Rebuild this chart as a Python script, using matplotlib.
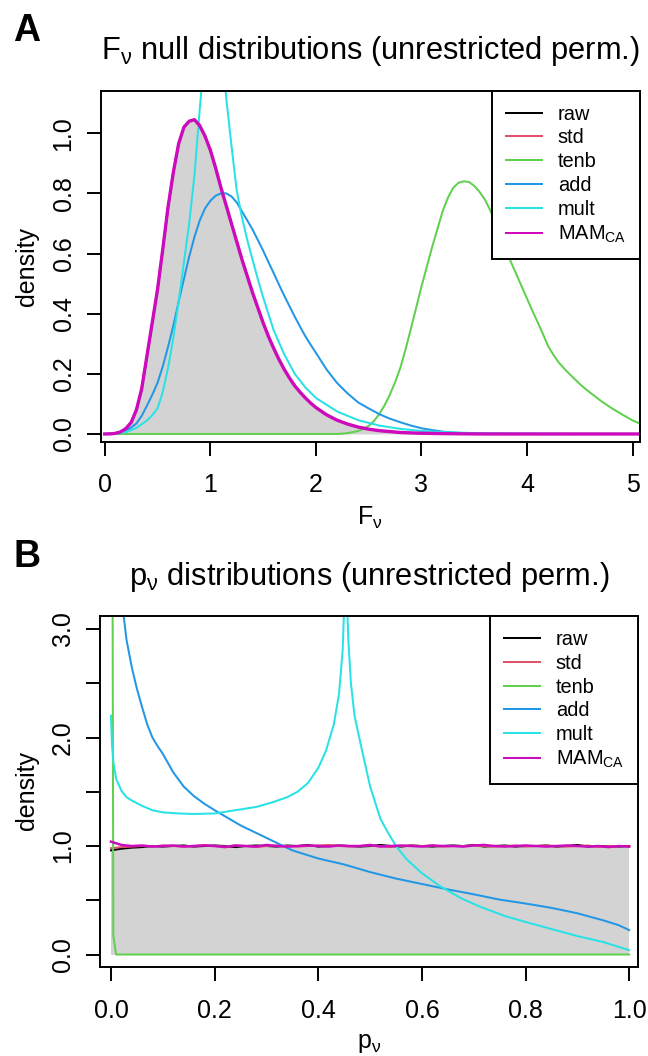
import numpy as np
import matplotlib
matplotlib.use("Agg")
import matplotlib.pyplot as plt
from matplotlib.lines import Line2D

plt.rcParams['font.family'] = ['Liberation Sans', 'DejaVu Sans']
plt.rcParams['mathtext.fontset'] = 'custom'
plt.rcParams['mathtext.rm'] = 'Liberation Sans'

# R 4.x default palette
series_names = ["raw", "std", "tenb", "add", "mult", "MAM$_{\\mathrm{CA}}$"]
series_cols = ["#000000", "#DF536B", "#61D04F", "#2297E6", "#28E2E5", "#CD0BBC"]

# ---------------- panel A: F null densities ----------------
null_A_x = [0, 0.05, 0.1, 0.15, 0.2, 0.25, 0.3, 0.35, 0.4, 0.45,
            0.5, 0.55, 0.6, 0.65, 0.7, 0.75, 0.8, 0.85, 0.9, 0.95,
            1.0, 1.05, 1.1, 1.15, 1.2, 1.25, 1.3, 1.35, 1.4, 1.45,
            1.5, 1.55, 1.6, 1.65, 1.7, 1.75, 1.8, 1.85, 1.9, 1.95,
            2.0, 2.1, 2.2, 2.3, 2.4, 2.5, 2.6, 2.7, 2.8, 2.9,
            3.0, 3.2, 3.4, 3.6, 5.1]
null_A = [0, 0.0003, 0.002, 0.007, 0.018, 0.038, 0.08, 0.15, 0.26, 0.37,
          0.48, 0.615, 0.755, 0.87, 0.965, 1.02, 1.04, 1.045, 1.025, 0.99,
          0.944, 0.885, 0.82, 0.76, 0.70, 0.64, 0.58, 0.525, 0.47, 0.42,
          0.37, 0.325, 0.285, 0.248, 0.215, 0.186, 0.16, 0.139, 0.12, 0.103,
          0.088, 0.064, 0.046, 0.033, 0.023, 0.016, 0.011, 0.008, 0.005, 0.0035,
          0.0025, 0.0012, 0.0005, 0, 0]

tenb_A_x = [0, 2.2, 2.25, 2.3, 2.35, 2.4, 2.45, 2.5, 2.55, 2.6,
            2.65, 2.7, 2.75, 2.8, 2.85, 2.9, 2.95, 3.0, 3.05, 3.1,
            3.15, 3.2, 3.25, 3.3, 3.35, 3.4, 3.45, 3.5, 3.55, 3.6,
            3.65, 3.7, 3.75, 3.8, 3.85, 3.9, 3.95, 4.0, 4.05, 4.1,
            4.15, 4.2, 4.25, 4.3, 4.35, 4.4, 4.45, 4.5, 4.55, 4.6,
            4.7, 4.8, 4.9, 5.0, 5.1]
tenb_A = [0, 0, 0.001, 0.003, 0.006, 0.01, 0.017, 0.027, 0.043, 0.066,
          0.095, 0.13, 0.172, 0.22, 0.282, 0.35, 0.42, 0.49, 0.555, 0.62,
          0.68, 0.74, 0.785, 0.818, 0.835, 0.84, 0.838, 0.825, 0.805, 0.78,
          0.745, 0.70, 0.655, 0.61, 0.57, 0.53, 0.49, 0.45, 0.41, 0.372,
          0.333, 0.292, 0.263, 0.238, 0.218, 0.2, 0.183, 0.166, 0.151, 0.137,
          0.11, 0.086, 0.065, 0.045, 0.03]

add_A_x = [0, 0.05, 0.1, 0.15, 0.2, 0.25, 0.3, 0.35, 0.4, 0.45,
           0.5, 0.55, 0.6, 0.65, 0.7, 0.75, 0.8, 0.85, 0.9, 0.95,
           1.0, 1.05, 1.1, 1.15, 1.2, 1.25, 1.3, 1.35, 1.4, 1.45,
           1.5, 1.55, 1.6, 1.65, 1.7, 1.75, 1.8, 1.85, 1.9, 1.95,
           2.0, 2.1, 2.2, 2.3, 2.4, 2.5, 2.6, 2.7, 2.8, 2.9,
           3.0, 3.1, 3.2, 3.3, 3.4, 3.6, 3.9, 4.2, 5.1]
add_A = [0, 0.001, 0.003, 0.006, 0.012, 0.021, 0.035, 0.06, 0.094, 0.13,
         0.17, 0.225, 0.29, 0.36, 0.44, 0.515, 0.59, 0.655, 0.71, 0.75,
         0.775, 0.792, 0.80, 0.80, 0.79, 0.77, 0.74, 0.71, 0.68, 0.645,
         0.61, 0.572, 0.535, 0.497, 0.46, 0.425, 0.39, 0.357, 0.325, 0.297,
         0.27, 0.215, 0.17, 0.135, 0.105, 0.085, 0.066, 0.051, 0.039, 0.028,
         0.019, 0.013, 0.008, 0.005, 0.003, 0.0015, 0.0005, 0, 0]

mult_A_x = [0, 0.1, 0.2, 0.3, 0.4, 0.45, 0.5, 0.55, 0.6, 0.65,
            0.7, 0.75, 0.8, 0.85, 0.9, 0.95, 1.0, 1.05, 1.1, 1.15,
            1.2, 1.25, 1.3, 1.35, 1.4, 1.45, 1.5, 1.6, 1.7, 1.8,
            1.9, 2.0, 2.2, 2.4, 2.6, 2.8, 3.0, 3.3, 3.6, 4.0,
            5.1]
mult_A = [0, 0.001, 0.006, 0.02, 0.045, 0.062, 0.085, 0.14, 0.22, 0.32,
          0.44, 0.57, 0.70, 0.86, 1.08, 1.28, 1.40, 1.42, 1.35, 1.12,
          0.96, 0.81, 0.72, 0.645, 0.58, 0.515, 0.455, 0.345, 0.265, 0.20,
          0.155, 0.12, 0.075, 0.046, 0.028, 0.017, 0.01, 0.005, 0.002, 0.001,
          0]

# ---------------- panel B: p-value densities ----------------
unif_x = [0.0, 1.0]
unif_y = [0.995, 0.995]

raw_B = [0.96, 0.975, 0.985, 0.99, 1.0, 0.995, 1.0, 1.005, 0.995, 1.0,
         1.005, 1.0, 0.99, 1.0, 1.005, 1.0, 0.995, 1.005, 1.0, 1.01,
         0.995, 1.0, 1.005, 1.0, 0.995, 1.0, 1.01, 1.0, 0.995, 1.005,
         1.0, 0.995, 1.0, 1.005, 1.0, 1.01, 0.995, 1.0, 1.005, 0.995,
         1.0, 1.0, 1.005, 0.995, 1.0, 1.01, 0.995, 1.0, 1.0, 0.995, 1.0]
std_B = [0.98, 0.99, 0.995, 1.0, 0.995, 1.005, 1.0, 0.995, 1.0, 1.01,
         1.0, 0.995, 1.005, 1.0, 0.99, 1.0, 1.005, 1.0, 0.995, 1.0,
         1.005, 1.01, 1.0, 0.995, 1.0, 1.005, 1.0, 0.99, 1.0, 1.005,
         1.0, 1.005, 0.995, 1.0, 1.0, 1.005, 1.0, 0.995, 1.0, 1.005,
         0.995, 1.0, 1.005, 1.0, 0.995, 1.0, 1.005, 0.99, 1.0, 1.0, 0.995]
mam_B = [1.04, 1.01, 1.0, 1.005, 0.995, 1.0, 1.005, 0.995, 1.0, 1.005,
         1.0, 0.99, 1.005, 1.0, 0.995, 1.01, 1.0, 0.995, 1.0, 1.005,
         1.0, 0.995, 1.005, 1.0, 1.0, 1.01, 0.995, 1.0, 1.005, 1.0,
         0.995, 1.005, 1.0, 1.0, 0.995, 1.005, 1.01, 1.0, 0.995, 1.0,
         1.005, 1.0, 0.995, 1.0, 1.005, 1.0, 0.995, 1.0, 0.99, 1.0, 0.995]

tenb_B_x = [0.0, 0.0025, 0.003, 0.0045, 0.01, 1.0]
tenb_B = [80, 40, 3.5, 0.17, 0.0, 0.0]

add_B_x = [0.0, 0.01, 0.02, 0.03, 0.04, 0.05, 0.06, 0.07, 0.08, 0.09,
           0.1, 0.12, 0.14, 0.16, 0.18, 0.2, 0.25, 0.3, 0.35, 0.4,
           0.45, 0.5, 0.55, 0.6, 0.65, 0.7, 0.75, 0.8, 0.85, 0.9,
           0.95, 0.98, 1.0]
add_B = [6.0, 4.2, 3.3, 2.9, 2.65, 2.45, 2.28, 2.12, 2.0, 1.92,
         1.85, 1.68, 1.55, 1.46, 1.39, 1.33, 1.19, 1.075, 0.96, 0.885,
         0.83, 0.76, 0.70, 0.65, 0.60, 0.555, 0.506, 0.47, 0.43, 0.38,
         0.315, 0.27, 0.225]

mult_B_x = [0.0, 0.002, 0.005, 0.01, 0.02, 0.03, 0.04, 0.06, 0.08, 0.1,
            0.13, 0.16, 0.2, 0.24, 0.28, 0.31, 0.34, 0.36, 0.38, 0.4,
            0.415, 0.43, 0.44, 0.447, 0.453, 0.458, 0.463, 0.47, 0.485, 0.5,
            0.52, 0.535, 0.55, 0.57, 0.6, 0.635, 0.675, 0.71, 0.76, 0.8,
            0.85, 0.9, 0.95, 1.0]
mult_B = [2.2, 1.93, 1.76, 1.62, 1.51, 1.45, 1.42, 1.37, 1.33, 1.31,
          1.30, 1.295, 1.30, 1.33, 1.36, 1.40, 1.45, 1.50, 1.58, 1.72,
          1.88, 2.12, 2.40, 2.8, 3.6, 2.9, 2.5, 2.2, 1.87, 1.55,
          1.25, 1.12, 1.0, 0.88, 0.75, 0.63, 0.52, 0.445, 0.355, 0.30,
          0.235, 0.17, 0.115, 0.04]

W, H = 648, 1056
LW = 1.45


def fx(px):
    return px / W


def fy(py):
    return 1 - py / H


def style_axes(ax):
    for s in ax.spines.values():
        s.set_linewidth(1.4)
    ax.tick_params(direction='out', length=10, width=1.4, labelsize=18)
    ax.tick_params(axis='x', pad=13)
    ax.tick_params(axis='y', pad=8, labelrotation=90)
    for lab in ax.get_yticklabels():
        lab.set_verticalalignment('center')


def add_legend(ax):
    handles = [Line2D([], [], color=c, lw=LW) for c in series_cols]
    leg = ax.legend(handles, series_names, loc='upper right', borderaxespad=0,
                    fontsize=14.4, handlelength=1.8, handletextpad=0.8,
                    borderpad=0.7, labelspacing=0.24, frameon=True,
                    fancybox=False, edgecolor='black', framealpha=1)
    leg.get_frame().set_linewidth(1.4)


fig = plt.figure(figsize=(W / 100, H / 100), dpi=100)

# ---- panel A ----
axA = fig.add_axes([fx(100.5), fy(441.5), fx(640 - 100.5), (441.5 - 90.5) / H])
axA.fill_between(null_A_x, null_A, color='lightgray', lw=0)
axA.plot(null_A_x, null_A, color=series_cols[0], lw=LW)
axA.plot(null_A_x, null_A, color=series_cols[1], lw=LW)
axA.plot(tenb_A_x, tenb_A, color=series_cols[2], lw=LW)
axA.plot(add_A_x, add_A, color=series_cols[3], lw=LW)
axA.plot(mult_A_x, mult_A, color=series_cols[4], lw=LW)
axA.plot(null_A_x, null_A, color=series_cols[5], lw=2.4)
axA.set_xlim(-0.04, 5.07)
axA.set_ylim(-0.025, 1.142)
axA.set_xticks([0, 1, 2, 3, 4, 5])
axA.set_yticks([0, 0.2, 0.4, 0.6, 0.8, 1.0])
axA.set_yticklabels(["0.0", "0.2", "0.4", "0.6", "0.8", "1.0"])
style_axes(axA)
add_legend(axA)

# ---- panel B ----
axB = fig.add_axes([fx(100), fy(967), fx(638 - 100), (967 - 616) / H])
axB.fill_between(unif_x, unif_y, color='lightgray', lw=0)
xb = np.linspace(0, 1, len(raw_B))
axB.plot(xb, raw_B, color=series_cols[0], lw=LW)
axB.plot(xb, std_B, color=series_cols[1], lw=LW)
axB.plot(tenb_B_x, tenb_B, color=series_cols[2], lw=LW)
axB.plot(add_B_x, add_B, color=series_cols[3], lw=LW)
axB.plot(mult_B_x, mult_B, color=series_cols[4], lw=LW)
axB.plot(xb, mam_B, color=series_cols[5], lw=1.8)
axB.set_xlim(-0.0212, 1.017)
axB.set_ylim(-0.115, 3.12)
axB.set_xticks([0, 0.2, 0.4, 0.6, 0.8, 1.0])
axB.set_xticklabels(["0.0", "0.2", "0.4", "0.6", "0.8", "1.0"])
axB.set_yticks([0, 0.5, 1.0, 1.5, 2.0, 2.5, 3.0])
axB.set_yticklabels(["0.0", "", "1.0", "", "2.0", "", "3.0"])
style_axes(axB)
add_legend(axB)

# ---- titles, axis labels, panel letters ----
fig.text(fx(370), fy(59.5), "F$_{\\mathrm{ν}}$ null distributions (unrestricted perm.)",
         ha='center', va='baseline', fontsize=22.2)
fig.text(fx(369), fy(585), "p$_{\\mathrm{ν}}$ distributions (unrestricted perm.)",
         ha='center', va='baseline', fontsize=22.2)
fig.text(fx(370), fy(518), "F$_{\\mathrm{ν}}$", ha='center', va='center', fontsize=18)
fig.text(fx(369), fy(1043), "p$_{\\mathrm{ν}}$", ha='center', va='center', fontsize=18)
fig.text(fx(27), fy(266), "density", rotation=90, ha='center', va='center', fontsize=18)
fig.text(fx(27), fy(791), "density", rotation=90, ha='center', va='center', fontsize=18)
fig.text(fx(13), fy(41), "A", ha='left', va='baseline', fontsize=27, fontweight='bold')
fig.text(fx(13), fy(567), "B", ha='left', va='baseline', fontsize=27, fontweight='bold')

fig.savefig("out.png", dpi=100)
